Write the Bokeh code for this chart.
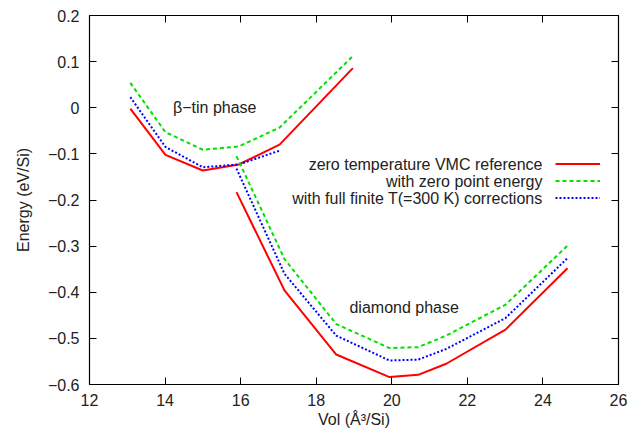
from bokeh.plotting import figure
from bokeh.models import (LinearAxis, FixedTicker, Legend, LegendItem, Label, Range1d)
from bokeh.core.properties import value
from bokeh.embed import file_html
from bokeh.resources import INLINE

# ---- data ----
beta_vol = [13.08, 14.01, 15.0, 15.95, 17.03, 18.97]
beta_vmc = [-0.002, -0.102, -0.136, -0.123, -0.080, 0.086]
beta_zpe = [0.054, -0.053, -0.091, -0.084, -0.043, 0.112]
beta_vol_T = [13.08, 14.01, 15.0, 15.95, 17.03]
beta_T = [0.023, -0.085, -0.129, -0.123, -0.093]

dia_vol = [15.89, 17.16, 18.53, 19.94, 20.70, 21.44, 23.01, 24.65]
dia_vmc = [-0.183, -0.396, -0.535, -0.584, -0.579, -0.555, -0.481, -0.348]
dia_zpe = [-0.105, -0.328, -0.469, -0.521, -0.519, -0.494, -0.427, -0.299]
dia_T = [-0.132, -0.360, -0.494, -0.548, -0.546, -0.523, -0.456, -0.326]

series_names = ["zero temperature VMC reference",
                "with zero point energy",
                "with full finite T(=300 K) corrections"]

x_ticks = [12, 14, 16, 18, 20, 22, 24, 26]
x_tick_labels = ["12", "14", "16", "18", "20", "22", "24", "26"]
y_ticks = [-0.6, -0.5, -0.4, -0.3, -0.2, -0.1, 0, 0.1, 0.2]
y_tick_labels = ["\u22120.6", "\u22120.5", "\u22120.4", "\u22120.3", "\u22120.2",
                 "\u22120.1", "0", "0.1", "0.2"]

FONT = "Liberation Sans"
FS = "16px"
RED, GREEN, BLUE = "#ff0000", "#00e000", "#0000ff"

p = figure(width=638, height=431, output_backend="svg", toolbar_location=None,
           x_range=Range1d(12, 26), y_range=Range1d(-0.6, 0.2),
           min_border_left=89, min_border_right=20, min_border_top=15,
           min_border_bottom=47)
p.xgrid.visible = False
p.ygrid.visible = False
p.outline_line_color = "black"
p.outline_line_width = 1.2
p.background_fill_color = "white"
p.border_fill_color = "white"

def style_axis(ax, ticks, labels, show_labels=True):
    ax.ticker = FixedTicker(ticks=ticks)
    ax.major_tick_in = 7
    ax.major_tick_out = 0
    ax.minor_tick_in = 0
    ax.minor_tick_out = 0
    ax.axis_line_color = "black"
    ax.major_tick_line_color = "black"
    ax.major_label_text_font = FONT
    if show_labels:
        ax.major_label_overrides = {t: l for t, l in zip(ticks, labels)}
        ax.major_label_text_font_size = FS
        ax.major_label_text_color = "#222222"
    else:
        ax.major_label_text_font_size = "1px"
        ax.major_label_text_color = None
        ax.major_label_standoff = 0
    ax.axis_label_text_font = FONT
    ax.axis_label_text_font_size = FS
    ax.axis_label_text_font_style = "normal"
    ax.axis_label_text_color = "#222222"

xa = p.xaxis[0]
style_axis(xa, x_ticks, x_tick_labels)
xa.axis_label = "Vol (\u00c5\u00b3/Si)"
xa.major_label_standoff = 9
xa.axis_label_standoff = 2

ya = p.yaxis[0]
style_axis(ya, y_ticks, y_tick_labels)
ya.axis_label = "Energy (eV/Si)"
ya.major_label_standoff = 10
ya.axis_label_standoff = 13

top = LinearAxis()
style_axis(top, x_ticks, x_tick_labels, show_labels=False)
p.add_layout(top, "above")
right = LinearAxis()
style_axis(right, y_ticks, y_tick_labels, show_labels=False)
p.add_layout(right, "right")

# ---- curves ----
r1 = p.line(beta_vol, beta_vmc, line_color=RED, line_width=2)
r2 = p.line(beta_vol, beta_zpe, line_color=GREEN, line_width=2, line_dash="4 3")
r3 = p.line(beta_vol_T, beta_T, line_color=BLUE, line_width=2, line_dash="2 2")
p.line(dia_vol, dia_vmc, line_color=RED, line_width=2)
p.line(dia_vol, dia_zpe, line_color=GREEN, line_width=2, line_dash="4 3")
p.line(dia_vol, dia_T, line_color=BLUE, line_width=2, line_dash="2 2")

# ---- legend: samples on the right, text right-aligned to their left ----
legend = Legend(items=[LegendItem(label=value(""), renderers=[r]) for r in (r1, r2, r3)],
                location=(466, 178), orientation="vertical",
                glyph_width=45, glyph_height=17, label_width=0, label_height=17,
                label_standoff=0, spacing=0, padding=0, margin=0,
                border_line_color=None, background_fill_alpha=0)
p.add_layout(legend, "center")

for name, yy in zip(series_names, [220, 203, 186]):
    p.add_layout(Label(x=453, y=yy, x_units="screen", y_units="screen", text=name,
                       text_align="right", text_baseline="middle",
                       text_font=FONT, text_font_size=FS, text_color="#222222"))

p.add_layout(Label(x=14.21, y=0.0, text="\u03b2\u2212tin phase", text_align="left",
                   text_baseline="middle", text_font=FONT, text_font_size=FS,
                   text_color="#222222"))
p.add_layout(Label(x=18.88, y=-0.432, text="diamond phase", text_align="left",
                   text_baseline="middle", text_font=FONT, text_font_size=FS,
                   text_color="#222222"))

open("out.html", "w").write(file_html(p, INLINE))
